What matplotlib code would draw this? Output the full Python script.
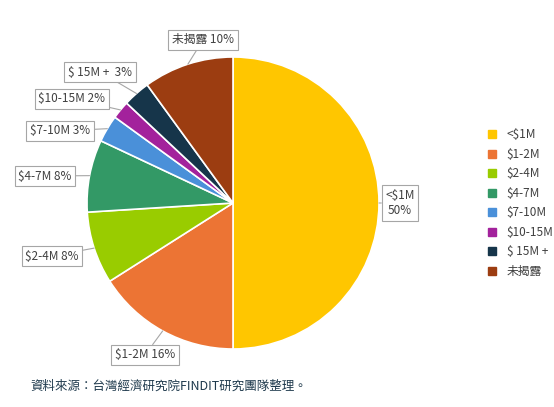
import numpy as np
import matplotlib.pyplot as plt

plt.rcParams['font.family'] = ['Noto Sans CJK TC', 'DejaVu Sans']

labels = ['<$1M', '$1-2M', '$2-4M', '$4-7M', '$7-10M', '$10-15M', '$ 15M +', '未揭露']
values = [50, 16, 8, 8, 3, 2, 3, 10]
colors = ['#FFC600', '#EC7434', '#99CC00', '#339966', '#4A90D9', '#A3229C', '#16354A', '#9C3D11']
box_text = ['<$1M\n50%', '$1-2M 16%', '$2-4M 8%', '$4-7M 8%', '$7-10M 3%', '$10-15M 2%', '$ 15M +  3%', '未揭露 10%']
# label box centres in pixels (x, y from top)
box_pos = [(400, 203), (145, 355), (52, 256), (45, 176), (60, 131), (72, 99), (100, 72), (203, 40)]

W, H = 554, 407
fig = plt.figure(figsize=(W / 100, H / 100), dpi=100)
cx, cy, r = 233, 203, 146
ax = fig.add_axes([(cx - r) / W, (H - cy - r) / H, 2 * r / W, 2 * r / H])
wedges, _ = ax.pie(values, colors=colors, startangle=90, counterclock=False,
                   wedgeprops=dict(edgecolor='white', linewidth=1.2))
ax.set_xlim(-1, 1)
ax.set_ylim(-1, 1)

for w, txt, (px, py) in zip(wedges, box_text, box_pos):
    ang = np.deg2rad((w.theta1 + w.theta2) / 2)
    xy = (np.cos(ang), np.sin(ang))
    fx, fy = px / W, 1 - py / H
    ax.annotate(txt, xy=xy, xycoords='data', xytext=(fx, fy), textcoords='figure fraction',
                ha='center', va='center', fontsize=8.5, color='#404040',
                bbox=dict(boxstyle='square,pad=0.3', fc='white', ec='#A6A6A6', lw=0.8),
                arrowprops=dict(arrowstyle='-', color='#A6A6A6', lw=0.8,
                                shrinkA=0, shrinkB=0))

handles = [plt.Line2D([], [], marker='s', ls='', color=c, markersize=6) for c in colors]
fig.legend(handles, labels, loc='center left', bbox_to_anchor=(470 / W, 1 - 203 / H),
           frameon=False, fontsize=8.5, handletextpad=0.2, labelspacing=0.55,
           labelcolor='#404040')

fig.text(30 / W, 1 - 386 / H, '資料來源：台灣經濟研究院FINDIT研究團隊整理。',
         fontsize=9, color='#1F3A4D', va='center')

fig.savefig('out.png', dpi=100)
